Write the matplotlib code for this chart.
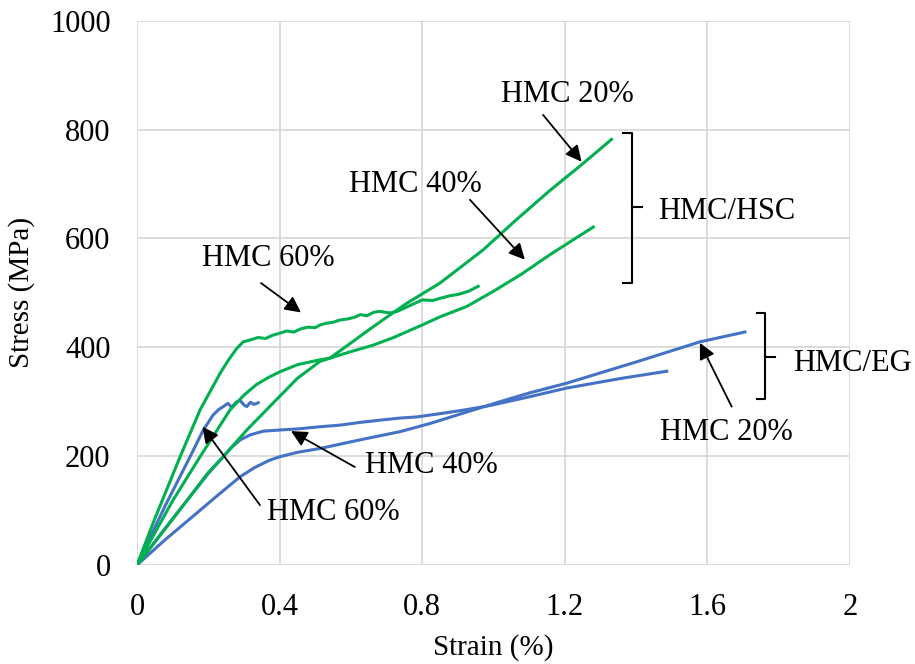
import matplotlib.pyplot as plt

plt.rcParams['font.family'] = ['Liberation Serif', 'DejaVu Serif']

# HMC/HSC (green)
hsc20_x = [0, 0.1, 0.2, 0.242, 0.308, 0.39, 0.45, 0.513, 0.541, 0.6, 0.663, 0.757, 0.85, 0.971, 1.06, 1.158, 1.25, 1.331]
hsc20_y = [0, 84, 170, 199, 248, 303, 343, 374, 380, 408, 438, 481, 518, 579, 632, 688, 737, 782]

hsc40_x = [0, 0.1, 0.177, 0.261, 0.3, 0.336, 0.37, 0.401, 0.45, 0.513, 0.541, 0.6, 0.663, 0.72, 0.8, 0.85, 0.925, 1.0, 1.08, 1.158, 1.22, 1.28]
hsc40_y = [0, 118, 199, 285, 312, 332, 345, 355, 368, 377, 380, 392, 404, 418, 441, 456, 475, 503, 535, 570, 596, 621]

hsc60_x = [0, 0.05, 0.121, 0.177, 0.233, 0.255, 0.27, 0.28, 0.289, 0.298, 0.31, 0.32, 0.34, 0.36, 0.38, 0.401, 0.42,
           0.44, 0.46, 0.48, 0.5, 0.513, 0.53, 0.55, 0.569, 0.59, 0.61, 0.626, 0.645, 0.663, 0.68, 0.71, 0.73, 0.75,
           0.77, 0.8, 0.83, 0.85, 0.88, 0.9, 0.93, 0.957]
hsc60_y = [0, 85, 199, 285, 352, 375, 389, 398, 404, 410, 412, 414, 418, 416, 422, 426, 430,
           428, 434, 437, 436, 441, 444, 446, 450, 452, 455, 460, 458, 464, 466, 463, 466, 472,
           478, 487, 486, 490, 495, 497, 503, 512]

# HMC/EG (blue)
eg20_x = [0, 0.08, 0.167, 0.23, 0.289, 0.33, 0.37, 0.401, 0.45, 0.513, 0.626, 0.738, 0.822, 0.92, 1.018, 1.1, 1.205, 1.4, 1.579, 1.705]
eg20_y = [0, 47, 95, 130, 162, 179, 192, 199, 207, 214, 230, 245, 260, 280, 300, 316, 334, 373, 410, 428]

eg40_x = [0, 0.1, 0.2, 0.242, 0.265, 0.29, 0.317, 0.355, 0.401, 0.45, 0.513, 0.57, 0.626, 0.68, 0.738, 0.784, 0.85, 0.92, 0.99, 1.1, 1.205, 1.35, 1.486]
eg40_y = [0, 85, 168, 199, 216, 230, 239, 246, 248, 250, 254, 257, 262, 266, 270, 272, 278, 285, 293, 309, 325, 342, 356]

eg60_x = [0, 0.08, 0.149, 0.186, 0.214, 0.23, 0.242, 0.255, 0.265, 0.28, 0.29, 0.3, 0.308, 0.318, 0.328, 0.34]
eg60_y = [0, 110, 199, 248, 276, 286, 291, 297, 290, 300, 302, 294, 291, 299, 295, 298]

green = '#00B050'
blue = '#4472C4'

fig = plt.figure(figsize=(9.15, 6.64), dpi=100)
ax = fig.add_axes([0.1497, 0.1491, 0.7793, 0.8197])

for xs, ys in [(eg20_x, eg20_y), (eg40_x, eg40_y), (eg60_x, eg60_y)]:
    ax.plot(xs, ys, color=blue, lw=2.2)
for xs, ys in [(hsc20_x, hsc20_y), (hsc40_x, hsc40_y), (hsc60_x, hsc60_y)]:
    ax.plot(xs, ys, color=green, lw=2.2)

ax.set_xlim(0, 2)
ax.set_ylim(0, 1000)
ax.set_xticks([0, 0.4, 0.8, 1.2, 1.6, 2])
ax.set_xticklabels(['0', '0.4', '0.8', '1.2', '1.6', '2'])
ax.set_yticks(range(0, 1001, 200))
ax.grid(True, color='#d9d9d9', lw=1.3)
ax.set_axisbelow(True)
for s in ax.spines.values():
    s.set_visible(False)
ax.tick_params(length=0, labelsize=22)
ax.tick_params(axis='x', pad=20)
ax.tick_params(axis='y', pad=19)
ax.set_xlabel('Strain (%)', fontsize=21, labelpad=9)
ax.set_ylabel('Stress (MPa)', fontsize=21, labelpad=11)

# labels with arrows: (text, text pos, arrow tail, arrow tip)
notes = [
    ('HMC 20%', (1.206, 864), (1.139, 827), (1.247, 741)),
    ('HMC 40%', (0.78, 699), (0.934, 671), (1.088, 561)),
    ('HMC 60%', (0.367, 564), (0.348, 518), (0.46, 464)),
    ('HMC 60%', (0.55, 96), (0.345, 110), (0.184, 254)),
    ('HMC 40%', (0.827, 182), (0.611, 180), (0.432, 246)),
    ('HMC 20%', (1.652, 244), (1.668, 291), (1.579, 408)),
]
for txt, tpos, tail, tip in notes:
    ax.text(tpos[0], tpos[1], txt, fontsize=22, ha='center', va='center')
    ax.annotate('', xy=tip, xytext=tail,
                arrowprops=dict(arrowstyle='-|>', color='black', lw=1.3,
                                mutation_scale=24, shrinkA=0, shrinkB=0))

# brackets
def bracket(x, y0, y1, ym, left, right):
    ax.plot([left, x, x, left], [y1, y1, y0, y0], color='black', lw=1.5, clip_on=False)
    ax.plot([x, right], [ym, ym], color='black', lw=1.5, clip_on=False)

bracket(1.388, 518, 794, 657, 1.362, 1.416)
ax.text(1.461, 649, 'HMC/HSC', fontsize=22, ha='left', va='center')
bracket(1.762, 305, 463, 383, 1.740, 1.790)
ax.text(1.839, 371, 'HMC/EG', fontsize=22, ha='left', va='center', clip_on=False)

fig.savefig('out.png', dpi=100)
